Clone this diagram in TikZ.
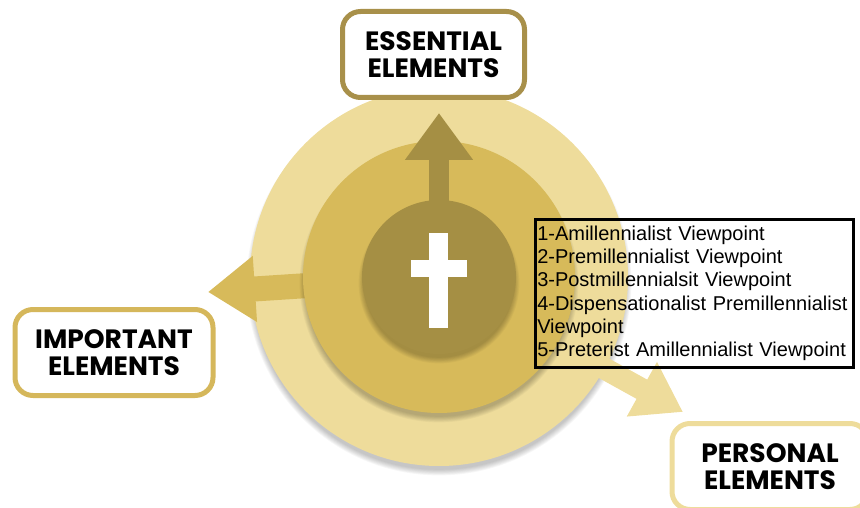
\documentclass[tikz,border=0pt]{standalone}
\usepackage{fontspec}
\setmainfont{Liberation Sans}
\newfontfamily\popfont{Poppins}
\usetikzlibrary{arrows.meta}
\definecolor{pale}{HTML}{EEDC9B}
\definecolor{gold}{HTML}{D7BA5A}
\definecolor{olive}{HTML}{A58F44}
\definecolor{oliveline}{HTML}{A8904A}
\definecolor{goldline}{HTML}{D5B75B}
\newcommand\circshadow[2]{%
  \foreach \k in {1,...,8}{\fill[black,opacity=0.03] ([yshift=-6pt]#1) circle ({#2pt-3pt+\k*0.8pt});}}
\begin{document}
\begin{tikzpicture}[x=1pt,y=-1pt,
  disc/.style={circle, inner sep=0pt, minimum size=#1},
  labelbox/.style={draw, line width=5pt, rounded corners=18pt, fill=white,
    align=center, inner sep=0pt, minimum height=86pt,
    font=\popfont\bfseries\fontsize{26.5}{26.5}\selectfont},
  blockarrow/.style={line width=#1},
  listbox/.style={draw=black, line width=2.5pt, anchor=north west, align=left,
    text width=314pt, inner xsep=2pt, inner ysep=5pt, minimum height=148pt,
    font=\fontsize{20}{23.3}\selectfont}]
\useasboundingbox (0,0) rectangle (860,508);
\clip (0,0) rectangle (860,508);
\coordinate (c) at (439,277);
\coordinate (tipE) at (439,113);
\coordinate (tipI) at (208,292);
\coordinate (tipP) at (683,412);

% outer circle
\circshadow{c}{189}
\node[disc=378pt, fill=pale] (outer) at (c) {};
\draw[pale, blockarrow=22pt, -{Triangle[width=59pt,length=47pt]}] (c) -- (tipP);
\draw[gold, blockarrow=25pt, -{Triangle[width=63pt,length=47pt]}] (c) -- (tipI);

% middle circle
\circshadow{c}{136}
\node[disc=272pt, fill=gold] (middle) at (c) {};
\draw[olive, blockarrow=20pt, -{Triangle[width=65pt,length=47pt]}] (c) -- (tipE);

% inner circle
\circshadow{c}{77}
\node[disc=154pt, fill=olive] (inner) at (c) {};
\fill[white] (429,233) rectangle (448,328);
\fill[white] (411,260) rectangle (467,277);

% label boxes
\node[labelbox, draw=oliveline, minimum width=182pt] (ess) at (433.5,54.5) {ESSENTIAL\\ELEMENTS};
\node[labelbox, draw=goldline, minimum width=198pt] (imp) at (114,352.5) {IMPORTANT\\ELEMENTS};
\node[labelbox, draw=pale, minimum width=196pt] (per) at (770,466.5) {PERSONAL\\ELEMENTS};

% list
\node[listbox] (list) at (534,218) {1-Amillennialist Viewpoint\\
2-Premillennialist Viewpoint\\
3-Postmillennialsit Viewpoint\\
4-Dispensationalist Premillennialist\\
Viewpoint\\
5-Preterist Amillennialist Viewpoint};
\end{tikzpicture}
\end{document}
